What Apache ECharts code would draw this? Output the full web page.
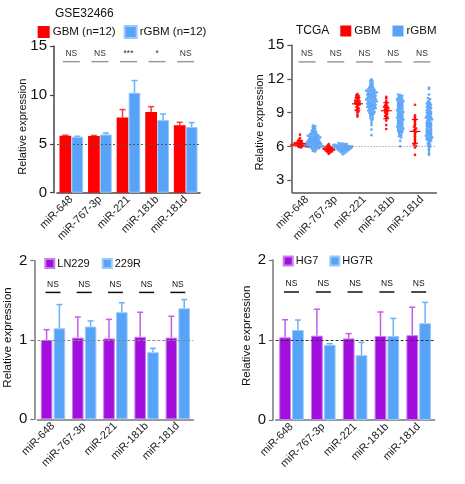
<!DOCTYPE html>
<html><head><meta charset="utf-8">
<script src="https://cdn.jsdelivr.net/npm/echarts@6/dist/echarts.min.js"></script>
<style>html,body{margin:0;padding:0;background:#fff}#c{width:465px;height:484px}</style>
</head><body><div id="c"></div><script>
const categories = ['miR-648','miR-767-3p','miR-221','miR-181b','miR-181d'];

// Panel A: GSE32466
const gseGBM = [5.82, 5.80, 7.70, 8.25, 6.90];
const gseGBMErr = [0.06, 0.05, 0.80, 0.55, 0.30];
const gseRGBM = [5.72, 5.95, 10.22, 7.43, 6.72];
const gseRGBMErr = [0.05, 0.15, 1.25, 0.62, 0.45];
const gseSig = ['NS','NS','***','*','NS'];
const gseTicks = [0,5,10,15];

// Panel B: TCGA (individual samples)
const tcgaGBM648 = [7.05,6.75,6.6,6.5,6.45,6.4,6.35,6.3,6.3,6.25,6.25,6.2,6.2,6.15,6.15,6.1,6.1,6.1,6.05,6.05,6.0,6.0,5.95,5.9];
const tcgaRGBM648 = [7.85,7.8,7.7,7.6,7.55,7.5,7.4,7.35,7.3,7.25,7.2,7.15,7.1,7.1,7.05,7.0,7.0,6.95,6.9,6.9,6.85,6.85,6.8,6.8,6.75,6.7,6.7,6.65,6.65,6.6,6.6,6.55,6.55,6.5,6.5,6.45,6.45,6.4,6.4,6.4,6.35,6.35,6.3,6.3,6.3,6.25,6.25,6.2,6.2,6.2,6.15,6.15,6.1,6.1,6.1,6.05,6.05,6.0,6.0,6.0,5.95,5.95,5.9,5.9,5.85,5.85,5.8,5.75,5.7,5.6,5.55];
const tcgaGBM767 = [6.2,6.1,6.0,5.95,5.9,5.85,5.85,5.8,5.8,5.75,5.75,5.7,5.7,5.65,5.65,5.6,5.55,5.5,5.45,5.35];
const tcgaRGBM767 = [6.3,6.25,6.25,6.2,6.2,6.15,6.15,6.1,6.1,6.1,6.05,6.05,6.0,6.0,6.0,5.95,5.95,5.95,5.9,5.9,5.9,5.85,5.85,5.85,5.8,5.8,5.8,5.75,5.75,5.7,5.7,5.65,5.65,5.6,5.6,5.55,5.5,5.45,5.4,5.3];
const tcgaGBM221 = [10.65,10.55,10.5,10.4,10.35,10.3,10.2,10.1,10.05,10.0,9.95,9.9,9.85,9.8,9.75,9.7,9.6,9.5,9.4,9.3,9.2,9.1,9.0,8.8,8.65];
const tcgaRGBM221 = [11.95,11.85,11.8,11.7,11.6,11.5,11.45,11.4,11.3,11.25,11.2,11.15,11.1,11.05,11.0,11.0,10.95,10.9,10.9,10.85,10.8,10.8,10.75,10.7,10.7,10.65,10.6,10.6,10.55,10.5,10.5,10.45,10.4,10.4,10.35,10.3,10.3,10.25,10.2,10.2,10.15,10.1,10.1,10.05,10.0,10.0,9.95,9.9,9.9,9.85,9.8,9.8,9.75,9.7,9.7,9.65,9.6,9.6,9.55,9.5,9.5,9.45,9.4,9.4,9.35,9.3,9.25,9.2,9.15,9.1,9.05,9.0,8.95,8.9,8.85,8.8,8.7,8.6,8.5,8.4,8.3,8.1,7.9,7.5,7.0];
const tcgaGBM181b = [10.4,10.25,10.0,9.85,9.75,9.65,9.55,9.5,9.45,9.4,9.3,9.25,9.2,9.1,9.0,8.9,8.8,8.7,8.6,8.5,8.3,7.9,7.55];
const tcgaRGBM181b = [10.6,10.55,10.5,10.4,10.35,10.3,10.25,10.2,10.15,10.1,10.05,10.0,9.95,9.9,9.85,9.8,9.75,9.7,9.65,9.6,9.55,9.5,9.45,9.4,9.35,9.3,9.25,9.2,9.15,9.1,9.05,9.0,8.95,8.9,8.85,8.8,8.75,8.7,8.65,8.6,8.55,8.5,8.45,8.4,8.35,8.3,8.25,8.2,8.15,8.1,8.05,8.0,7.95,7.9,7.85,7.8,7.75,7.7,7.65,7.6,7.55,7.5,7.45,7.4,7.35,7.3,7.25,7.2,7.1,7.0,6.9,6.8,6.5,6.0];
const tcgaGBM181d = [9.7,8.75,8.6,8.45,8.3,8.2,8.0,7.9,7.75,7.6,7.5,7.4,7.3,7.2,7.05,6.9,6.75,6.6,6.45,6.3,6.15,6.05,5.9,5.25];
const tcgaRGBM181d = [11.2,11.1,10.6,10.3,10.2,10.05,9.95,9.85,9.8,9.75,9.7,9.6,9.55,9.5,9.45,9.4,9.3,9.25,9.2,9.1,9.05,9.0,8.95,8.9,8.85,8.8,8.7,8.65,8.6,8.55,8.5,8.45,8.4,8.35,8.3,8.2,8.15,8.1,8.05,8.0,7.95,7.9,7.85,7.8,7.75,7.7,7.6,7.55,7.5,7.45,7.4,7.35,7.3,7.25,7.2,7.15,7.1,7.05,7.0,6.95,6.9,6.85,6.8,6.75,6.7,6.65,6.6,6.55,6.5,6.4,6.3,6.2,6.1,6.0,5.9,5.75,5.6,5.4,5.25];
const tcgaGBM = [tcgaGBM648, tcgaGBM767, tcgaGBM221, tcgaGBM181b, tcgaGBM181d];
const tcgaRGBM = [tcgaRGBM648, tcgaRGBM767, tcgaRGBM221, tcgaRGBM181b, tcgaRGBM181d];
const tcgaSig = ['NS','NS','NS','NS','NS'];
const tcgaTicks = [3,6,9,12,15];

// Panel C: LN229 vs 229R
const ln229 = [1.00, 1.03, 1.02, 1.04, 1.03];
const ln229Err = [0.13, 0.26, 0.24, 0.31, 0.27];
const r229 = [1.147, 1.17, 1.35, 0.845, 1.40];
const r229Err = [0.30, 0.07, 0.12, 0.05, 0.11];
const lnSig = ['NS','NS','NS','NS','NS'];

// Panel D: HG7 vs HG7R
const hg7 = [1.033, 1.054, 1.02, 1.05, 1.06];
const hg7Err = [0.22, 0.33, 0.06, 0.30, 0.35];
const hg7r = [1.125, 0.94, 0.81, 1.05, 1.21];
const hg7rErr = [0.125, 0.015, 0.16, 0.22, 0.26];
const hgSig = ['NS','NS','NS','NS','NS'];
const cellTicks = [0,1,2];

const RED = '#ff0000', BLUE = '#57a3f7', PURPLE = '#a20edd';
const FONT = 'Liberation Sans, Arial, sans-serif';

function errSeries(gi, vals, errs, side, bw, gap, color, capW) {
  return {
    type: 'custom', xAxisIndex: gi, yAxisIndex: gi, z: 2, silent: true,
    encode: {x: 0, y: 1},
    data: vals.map((v, i) => [i, v, v + errs[i]]),
    renderItem: (params, api) => {
      const band = api.size([1, 0])[0];
      const w = band * bw, g = w * gap;
      const dx = side * (w + g) / 2;
      const p0 = api.coord([api.value(0), api.value(1)]);
      const p1 = api.coord([api.value(0), api.value(2)]);
      const x = p0[0] + dx;
      const st = {stroke: color, lineWidth: 1.5};
      return {type: 'group', children: [
        {type: 'line', shape: {x1: x, y1: p0[1], x2: x, y2: p1[1]}, style: st},
        {type: 'line', shape: {x1: x - capW / 2, y1: p1[1], x2: x + capW / 2, y2: p1[1]}, style: st}
      ]};
    }
  };
}

function sigSeries(gi, labels, yLine, yText, color, textColor, width) {
  return {
    type: 'custom', xAxisIndex: gi, yAxisIndex: gi, z: 4, silent: true,
    encode: {x: 0, y: 1},
    data: labels.map((l, i) => [i, yLine, yText]),
    renderItem: (params, api) => {
      const i = api.value(0);
      const p = api.coord([i, api.value(1)]);
      const t = api.coord([i, api.value(2)]);
      return {type: 'group', children: [
        {type: 'line', shape: {x1: p[0] - width / 2, y1: p[1], x2: p[0] + width / 2, y2: p[1]}, style: {stroke: color, lineWidth: 1.5}},
        {type: 'text', x: p[0], y: t[1], style: {text: labels[params.dataIndex], fill: textColor, fontSize: 8.5, fontFamily: FONT, align: 'center', verticalAlign: 'middle', textAlign: 'center', textVerticalAlign: 'middle'}}
      ]};
    }
  };
}

function refLine(gi, y, color, type) {
  return {
    type: 'line', xAxisIndex: gi, yAxisIndex: gi, data: [], z: 1, silent: true,
    markLine: {silent: true, symbol: 'none', label: {show: false}, animation: false,
      lineStyle: {color: color, type: type, width: 1}, data: [{yAxis: y}]}
  };
}

// beeswarm layout: horizontal pixel offsets for points with similar values
function swarm(vals, binSize, step) {
  const bins = {}; const out = vals.map(() => 0);
  vals.forEach((v, i) => { const b = Math.round(v / binSize); (bins[b] = bins[b] || []).push(i); });
  Object.values(bins).forEach(idx => { const k = idx.length; idx.forEach((id, j) => { out[id] = (j - (k - 1) / 2) * step; }); });
  return out;
}

function dotSeries(name, groups, side, color) {
  const data = [];
  groups.forEach((vals, i) => {
    const off = swarm(vals, 0.16, 2.1);
    vals.forEach((v, j) => data.push([i, v, side + off[j]]));
  });
  return {
    type: 'custom', name: name, xAxisIndex: 1, yAxisIndex: 1, z: 3, silent: true,
    itemStyle: {color: color}, encode: {x: 0, y: 1}, data: data,
    renderItem: (params, api) => {
      const p = api.coord([api.value(0), api.value(1)]);
      return {type: 'circle', shape: {cx: p[0] + api.value(2), cy: p[1], r: 1.35}, style: {fill: color, opacity: 0.9}};
    }
  };
}

function meanSdSeries(groups, side, color) {
  const data = groups.map((vals, i) => {
    const m = vals.reduce((a, b) => a + b, 0) / vals.length;
    const sd = Math.sqrt(vals.reduce((a, b) => a + (b - m) * (b - m), 0) / (vals.length - 1));
    return [i, m, sd];
  });
  return {
    type: 'custom', xAxisIndex: 1, yAxisIndex: 1, z: 5, silent: true, encode: {x: 0, y: 1}, data: data,
    renderItem: (params, api) => {
      const i = api.value(0), m = api.value(1), sd = api.value(2);
      const pm = api.coord([i, m]), pt = api.coord([i, m + sd]), pb = api.coord([i, m - sd]);
      const x = pm[0] + side; const st = {stroke: color, lineWidth: 1.2};
      return {type: 'group', children: [
        {type: 'line', shape: {x1: x, y1: pt[1], x2: x, y2: pb[1]}, style: st},
        {type: 'line', shape: {x1: x - 3, y1: pt[1], x2: x + 3, y2: pt[1]}, style: st},
        {type: 'line', shape: {x1: x - 3, y1: pb[1], x2: x + 3, y2: pb[1]}, style: st},
        {type: 'line', shape: {x1: x - 5.5, y1: pm[1], x2: x + 5.5, y2: pm[1]}, style: st}
      ]};
    }
  };
}

const grids = [
  {left: 57, top: 46, width: 143, height: 146.7},
  {left: 292.6, top: 45, width: 143.75, height: 147.7},
  {left: 37.4, top: 260.7, width: 156, height: 158.6},
  {left: 275.6, top: 260, width: 159, height: 160}
];
const yOffsets = [3, 1.3, 3, 2.6];
const axisColors = ['#444', '#555', '#777', '#777'];

const xAxes = grids.map((g, i) => ({
  type: 'category', gridIndex: i, data: categories,
  axisLine: {lineStyle: {color: axisColors[i], width: 1.5}},
  axisTick: {alignWithLabel: true, length: 3, lineStyle: {color: axisColors[i], width: 1.2}},
  axisLabel: {rotate: 45, interval: 0, fontSize: 11, color: '#222', fontFamily: FONT, margin: 5}
}));
const yRanges = [[0, 15, gseTicks], [1.9, 15, tcgaTicks], [0, 2, cellTicks], [0, 2, cellTicks]];
const yAxes = yRanges.map((r, i) => ({
  type: 'value', gridIndex: i, min: r[0], max: r[1], offset: yOffsets[i],
  splitLine: {show: false},
  axisLine: {show: true, lineStyle: {color: axisColors[i], width: 1.5}},
  axisTick: {show: true, length: 4, customValues: r[2], lineStyle: {color: axisColors[i], width: 1.2}},
  axisLabel: {customValues: r[2], fontSize: 15, color: '#111', fontFamily: FONT, margin: 7}
}));

const series = [
  refLine(0, 5, '#555', [2, 2]),
  {type: 'bar', name: 'GBM (n=12)', xAxisIndex: 0, yAxisIndex: 0, data: gseGBM, barWidth: '41%', barGap: '2%', z: 3, itemStyle: {color: RED}},
  {type: 'bar', name: 'rGBM (n=12)', xAxisIndex: 0, yAxisIndex: 0, data: gseRGBM, barWidth: '41%', barGap: '2%', z: 3, itemStyle: {color: BLUE, borderColor: '#9cc8fa', borderWidth: 1}},
  errSeries(0, gseGBM, gseGBMErr, -1, 0.41, 0.02, '#ff3b3b', 6),
  errSeries(0, gseRGBM, gseRGBMErr, 1, 0.41, 0.02, '#6cb0f8', 6),
  sigSeries(0, gseSig, 13.4, 14.2, '#9a9a9a', '#333', 17),

  refLine(1, 6, '#888', [1, 2]),
  dotSeries('GBM', tcgaGBM, -7, RED),
  dotSeries('rGBM', tcgaRGBM, 7, BLUE),
  meanSdSeries(tcgaGBM, -7, RED),
  sigSeries(1, tcgaSig, 13.5, 14.25, '#9a9a9a', '#333', 17),

  refLine(2, 1, '#888', [3, 2]),
  {type: 'bar', name: 'LN229', xAxisIndex: 2, yAxisIndex: 2, data: ln229, barWidth: '37%', barGap: '11%', z: 3, itemStyle: {color: PURPLE, borderColor: '#c77eec', borderWidth: 1}},
  {type: 'bar', name: '229R', xAxisIndex: 2, yAxisIndex: 2, data: r229, barWidth: '37%', barGap: '11%', z: 3, itemStyle: {color: BLUE, borderColor: '#9cc8fa', borderWidth: 1}},
  errSeries(2, ln229, ln229Err, -1, 0.37, 0.11, '#c25ee8', 6),
  errSeries(2, r229, r229Err, 1, 0.37, 0.11, '#6cb0f8', 6),
  sigSeries(2, lnSig, 1.6, 1.7, '#111', '#111', 15),

  refLine(3, 1, '#333', [3, 2]),
  {type: 'bar', name: 'HG7', xAxisIndex: 3, yAxisIndex: 3, data: hg7, barWidth: '37%', barGap: '9%', z: 3, itemStyle: {color: PURPLE, borderColor: '#c77eec', borderWidth: 1}},
  {type: 'bar', name: 'HG7R', xAxisIndex: 3, yAxisIndex: 3, data: hg7r, barWidth: '37%', barGap: '9%', z: 3, itemStyle: {color: BLUE, borderColor: '#9cc8fa', borderWidth: 1}},
  errSeries(3, hg7, hg7Err, -1, 0.37, 0.09, '#c25ee8', 6),
  errSeries(3, hg7r, hg7rErr, 1, 0.37, 0.09, '#6cb0f8', 6),
  sigSeries(3, hgSig, 1.6, 1.7, '#111', '#111', 15)
];

function legend(left, top, size, gap, items, fs) {
  return {
    left: left, top: top, padding: 0, itemGap: gap, itemWidth: size, itemHeight: size, selectedMode: false,
    textStyle: {fontSize: fs, color: '#111', fontFamily: FONT, padding: [0, 0, 0, -2]},
    data: items.map(it => ({name: it[0], icon: 'rect', itemStyle: {color: it[1]}}))
  };
}

function vText(x, y, text, fs) {
  return {type: 'text', x: x, y: y, rotation: Math.PI / 2,
    style: {text: text, fontSize: fs, fontFamily: FONT, fill: '#111', align: 'center', verticalAlign: 'middle', textAlign: 'center', textVerticalAlign: 'middle'}};
}
function hText(x, y, text, fs) {
  return {type: 'text', x: x, y: y,
    style: {text: text, fontSize: fs, fontFamily: FONT, fill: '#111', align: 'left', verticalAlign: 'middle', textAlign: 'left', textVerticalAlign: 'middle'}};
}

const chart = echarts.init(document.getElementById('c'), null, {renderer: 'canvas'});
chart.setOption({
  animation: false,
  backgroundColor: '#fff',
  grid: grids,
  xAxis: xAxes,
  yAxis: yAxes,
  legend: [
    legend(37.7, 25, 12, 8, [['GBM (n=12)', RED], ['rGBM (n=12)', BLUE]], 11.5),
    legend(340.3, 25, 11, 12, [['GBM', RED], ['rGBM', BLUE]], 11.5),
    legend(44.3, 258, 9, 12, [['LN229', PURPLE], ['229R', BLUE]], 11),
    legend(282.7, 255.5, 9, 11, [['HG7', PURPLE], ['HG7R', BLUE]], 11)
  ],
  graphic: [
    hText(55, 13.5, 'GSE32466', 12),
    hText(296, 30.5, 'TCGA', 12),
    vText(22.7, 126.7, 'Relative expression', 11),
    vText(260.3, 122.5, 'Relative expression', 11),
    vText(8, 337.5, 'Relative expression', 11.5),
    vText(247, 335.8, 'Relative expression', 11.5)
  ],
  series: series
});
</script></body></html>
